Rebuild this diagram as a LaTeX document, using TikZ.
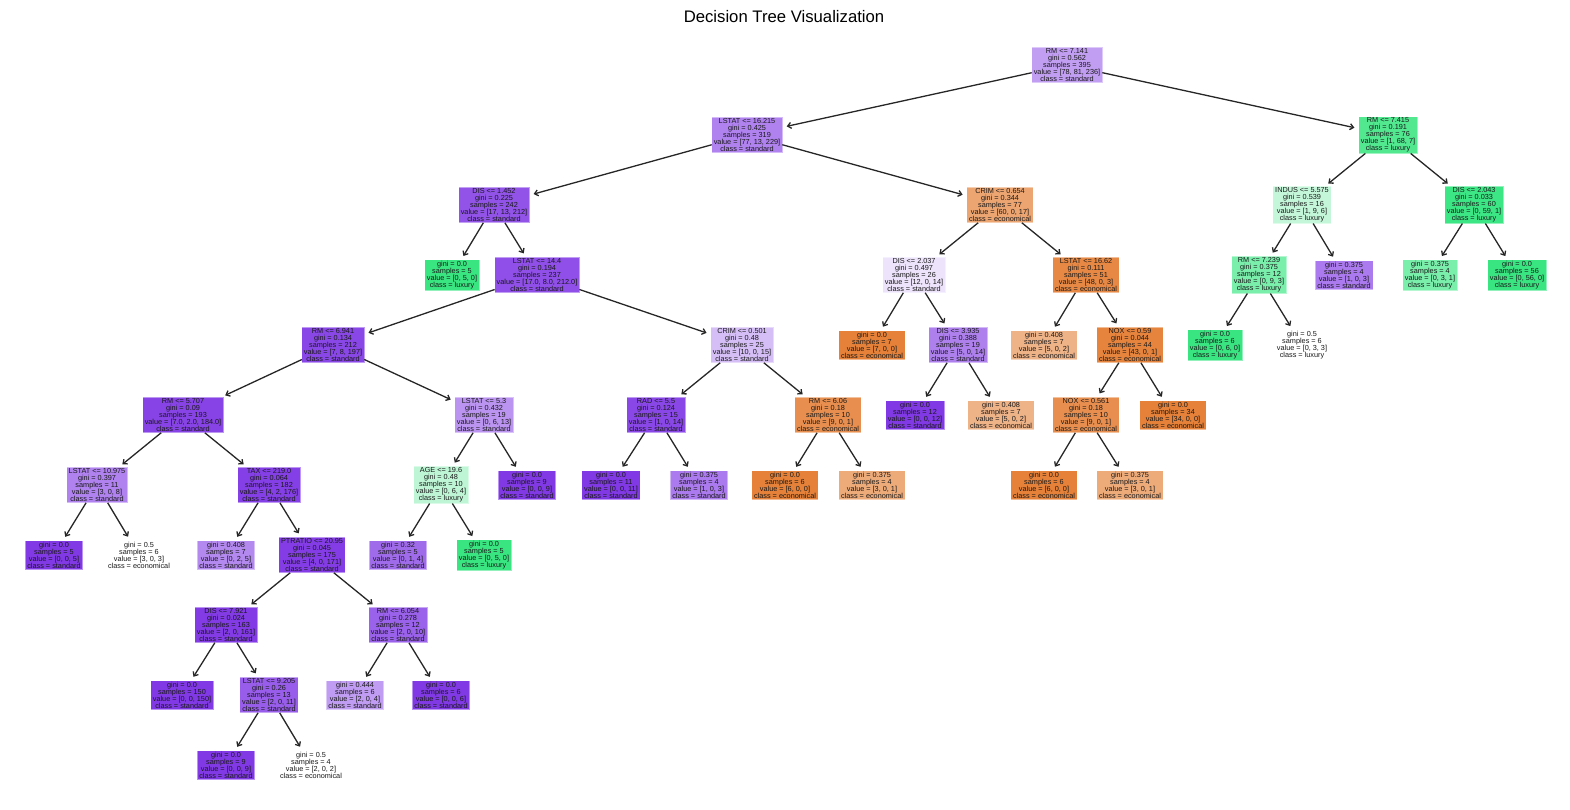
\documentclass[tikz,border=0pt]{standalone}
\usepackage{fontspec}
\setmainfont{Liberation Sans}
\usetikzlibrary{arrows.meta}
\definecolor{pur}{RGB}{129,57,229}
\definecolor{grn}{RGB}{57,229,129}
\definecolor{org}{RGB}{229,129,57}
\tikzset{
  tn/.style={fill=#1, draw=#1, draw opacity=0.55, line width=0.6pt, align=center,
    inner xsep=1.8pt, inner ysep=1pt, font=\fontsize{7.3}{6.95}\selectfont, text=black!90},
  edge/.style={draw=black!85, line width=1.3pt, -{Straight Barb[length=3.5pt,width=6pt]}, shorten >=4.5pt}
}
\begin{document}
\begin{tikzpicture}[x=1pt,y=-1pt]
\useasboundingbox (0,0) rectangle (1570,810);
\node[font=\fontsize{16.7}{20}\selectfont] (title) at (784,17) {Decision Tree Visualization};
\node[tn=pur!49] (n0) at (1067,65) {RM <= 7.141\\gini = 0.562\\samples = 395\\value = [78, 81, 236]\\class = standard};
\node[tn=pur!63] (n1) at (747,135) {LSTAT <= 16.215\\gini = 0.425\\samples = 319\\value = [77, 13, 229]\\class = standard};
\node[tn=grn!88] (n2) at (1388,135) {RM <= 7.415\\gini = 0.191\\samples = 76\\value = [1, 68, 7]\\class = luxury};
\node[tn=pur!87] (n3) at (494,205) {DIS <= 1.452\\gini = 0.225\\samples = 242\\value = [17, 13, 212]\\class = standard};
\node[tn=org!72] (n4) at (1000,205) {CRIM <= 0.654\\gini = 0.344\\samples = 77\\value = [60, 0, 17]\\class = economical};
\node[tn=grn!30] (n5) at (1302,205) {INDUS <= 5.575\\gini = 0.539\\samples = 16\\value = [1, 9, 6]\\class = luxury};
\node[tn=grn!98] (n6) at (1474,205) {DIS <= 2.043\\gini = 0.033\\samples = 60\\value = [0, 59, 1]\\class = luxury};
\node[tn=grn] (n7) at (452,275) {gini = 0.0\\samples = 5\\value = [0, 5, 0]\\class = luxury};
\node[tn=pur!89] (n8) at (537,275) {LSTAT <= 14.4\\gini = 0.194\\samples = 237\\value = [17.0, 8.0, 212.0]\\class = standard};
\node[tn=pur!14] (n9) at (914,275) {DIS <= 2.037\\gini = 0.497\\samples = 26\\value = [12, 0, 14]\\class = standard};
\node[tn=org!94] (n10) at (1086,275) {LSTAT <= 16.62\\gini = 0.111\\samples = 51\\value = [48, 0, 3]\\class = economical};
\node[tn=grn!67] (n11) at (1259,275) {RM <= 7.239\\gini = 0.375\\samples = 12\\value = [0, 9, 3]\\class = luxury};
\node[tn=pur!67] (n12) at (1344,275) {gini = 0.375\\samples = 4\\value = [1, 0, 3]\\class = standard};
\node[tn=grn!67] (n13) at (1430,275) {gini = 0.375\\samples = 4\\value = [0, 3, 1]\\class = luxury};
\node[tn=grn] (n14) at (1517,275) {gini = 0.0\\samples = 56\\value = [0, 56, 0]\\class = luxury};
\node[tn=pur!93] (n15) at (333,345) {RM <= 6.941\\gini = 0.134\\samples = 212\\value = [7, 8, 197]\\class = standard};
\node[tn=pur!33] (n16) at (742,345) {CRIM <= 0.501\\gini = 0.48\\samples = 25\\value = [10, 0, 15]\\class = standard};
\node[tn=org] (n17) at (872,345) {gini = 0.0\\samples = 7\\value = [7, 0, 0]\\class = economical};
\node[tn=pur!64] (n18) at (958,345) {DIS <= 3.935\\gini = 0.388\\samples = 19\\value = [5, 0, 14]\\class = standard};
\node[tn=org!60] (n19) at (1044,345) {gini = 0.408\\samples = 7\\value = [5, 0, 2]\\class = economical};
\node[tn=org!98] (n20) at (1130,345) {NOX <= 0.59\\gini = 0.044\\samples = 44\\value = [43, 0, 1]\\class = economical};
\node[tn=grn] (n21) at (1215,345) {gini = 0.0\\samples = 6\\value = [0, 6, 0]\\class = luxury};
\node[tn=white] (n22) at (1302,345) {gini = 0.5\\samples = 6\\value = [0, 3, 3]\\class = luxury};
\node[tn=pur!95] (n23) at (183,415) {RM <= 5.707\\gini = 0.09\\samples = 193\\value = [7.0, 2.0, 184.0]\\class = standard};
\node[tn=pur!54] (n24) at (484,415) {LSTAT <= 5.3\\gini = 0.432\\samples = 19\\value = [0, 6, 13]\\class = standard};
\node[tn=pur!93] (n25) at (656,415) {RAD <= 5.5\\gini = 0.124\\samples = 15\\value = [1, 0, 14]\\class = standard};
\node[tn=org!89] (n26) at (828,415) {RM <= 6.06\\gini = 0.18\\samples = 10\\value = [9, 0, 1]\\class = economical};
\node[tn=pur] (n27) at (915,415) {gini = 0.0\\samples = 12\\value = [0, 0, 12]\\class = standard};
\node[tn=org!60] (n28) at (1001,415) {gini = 0.408\\samples = 7\\value = [5, 0, 2]\\class = economical};
\node[tn=org!89] (n29) at (1086,415) {NOX <= 0.561\\gini = 0.18\\samples = 10\\value = [9, 0, 1]\\class = economical};
\node[tn=org] (n30) at (1173,415) {gini = 0.0\\samples = 34\\value = [34, 0, 0]\\class = economical};
\node[tn=pur!63] (n31) at (97,485) {LSTAT <= 10.975\\gini = 0.397\\samples = 11\\value = [3, 0, 8]\\class = standard};
\node[tn=pur!97] (n32) at (269,485) {TAX <= 219.0\\gini = 0.064\\samples = 182\\value = [4, 2, 176]\\class = standard};
\node[tn=grn!33] (n33) at (441,485) {AGE <= 19.6\\gini = 0.48\\samples = 10\\value = [0, 6, 4]\\class = luxury};
\node[tn=pur] (n34) at (527,485) {gini = 0.0\\samples = 9\\value = [0, 0, 9]\\class = standard};
\node[tn=pur] (n35) at (611,485) {gini = 0.0\\samples = 11\\value = [0, 0, 11]\\class = standard};
\node[tn=pur!67] (n36) at (699,485) {gini = 0.375\\samples = 4\\value = [1, 0, 3]\\class = standard};
\node[tn=org] (n37) at (785,485) {gini = 0.0\\samples = 6\\value = [6, 0, 0]\\class = economical};
\node[tn=org!67] (n38) at (872,485) {gini = 0.375\\samples = 4\\value = [3, 0, 1]\\class = economical};
\node[tn=org] (n39) at (1044,485) {gini = 0.0\\samples = 6\\value = [6, 0, 0]\\class = economical};
\node[tn=org!67] (n40) at (1130,485) {gini = 0.375\\samples = 4\\value = [3, 0, 1]\\class = economical};
\node[tn=pur] (n41) at (54,555) {gini = 0.0\\samples = 5\\value = [0, 0, 5]\\class = standard};
\node[tn=white] (n42) at (139,555) {gini = 0.5\\samples = 6\\value = [3, 0, 3]\\class = economical};
\node[tn=pur!60] (n43) at (226,555) {gini = 0.408\\samples = 7\\value = [0, 2, 5]\\class = standard};
\node[tn=pur!98] (n44) at (312,555) {PTRATIO <= 20.95\\gini = 0.045\\samples = 175\\value = [4, 0, 171]\\class = standard};
\node[tn=pur!75] (n45) at (398,555) {gini = 0.32\\samples = 5\\value = [0, 1, 4]\\class = standard};
\node[tn=grn] (n46) at (484,555) {gini = 0.0\\samples = 5\\value = [0, 5, 0]\\class = luxury};
\node[tn=pur!99] (n47) at (226,625) {DIS <= 7.921\\gini = 0.024\\samples = 163\\value = [2, 0, 161]\\class = standard};
\node[tn=pur!80] (n48) at (398,625) {RM <= 6.054\\gini = 0.278\\samples = 12\\value = [2, 0, 10]\\class = standard};
\node[tn=pur] (n49) at (182,695) {gini = 0.0\\samples = 150\\value = [0, 0, 150]\\class = standard};
\node[tn=pur!82] (n50) at (269,695) {LSTAT <= 9.205\\gini = 0.26\\samples = 13\\value = [2, 0, 11]\\class = standard};
\node[tn=pur!50] (n51) at (355,695) {gini = 0.444\\samples = 6\\value = [2, 0, 4]\\class = standard};
\node[tn=pur] (n52) at (441,695) {gini = 0.0\\samples = 6\\value = [0, 0, 6]\\class = standard};
\node[tn=pur] (n53) at (226,765) {gini = 0.0\\samples = 9\\value = [0, 0, 9]\\class = standard};
\node[tn=white] (n54) at (311,765) {gini = 0.5\\samples = 4\\value = [2, 0, 2]\\class = economical};
\foreach \p/\c in {n0/n1,n0/n2,n1/n3,n1/n4,n2/n5,n2/n6,n3/n7,n3/n8,n4/n9,n4/n10,
  n5/n11,n5/n12,n6/n13,n6/n14,n8/n15,n8/n16,n9/n17,n9/n18,n10/n19,n10/n20,
  n11/n21,n11/n22,n15/n23,n15/n24,n16/n25,n16/n26,n18/n27,n18/n28,n20/n29,n20/n30,
  n23/n31,n23/n32,n24/n33,n24/n34,n25/n35,n25/n36,n26/n37,n26/n38,n29/n39,n29/n40,
  n31/n41,n31/n42,n32/n43,n32/n44,n33/n45,n33/n46,n44/n47,n44/n48,n47/n49,n47/n50,
  n48/n51,n48/n52,n50/n53,n50/n54}
  \draw[edge] (\p) -- (\c);
\end{tikzpicture}
\end{document}
